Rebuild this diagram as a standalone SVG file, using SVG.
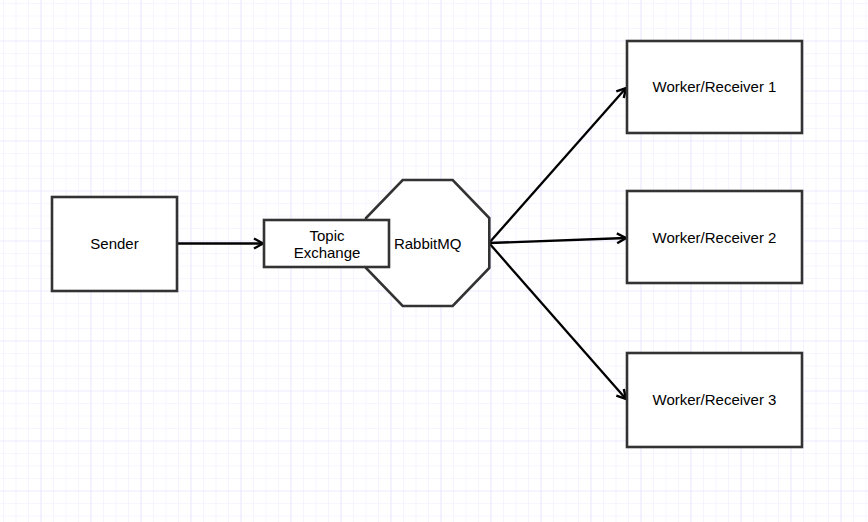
<svg xmlns="http://www.w3.org/2000/svg" width="868" height="522" viewBox="0 0 868 522">
  <defs>
    <pattern id="minor" x="3" y="3" width="12.5" height="12.5" patternUnits="userSpaceOnUse">
      <path d="M0,0 V12.5 M0,0 H12.5" fill="none" stroke="#f0eeff" stroke-width="1.2"/>
    </pattern>
    <pattern id="major" x="40.5" y="40.5" width="50" height="50" patternUnits="userSpaceOnUse">
      <path d="M0,0 V50 M0,0 H50" fill="none" stroke="#e4e0ff" stroke-width="1.2"/>
    </pattern>
    <marker id="arrow" markerUnits="userSpaceOnUse" markerWidth="16" markerHeight="16" viewBox="-12 -8 14 16" refX="0" refY="0" orient="auto">
      <path d="M-9,-5 L0,0 L-9,5" fill="none" stroke="#000" stroke-width="2.4"/>
    </marker>
    <style>
      .box { fill: #ffffff; stroke: #333333; stroke-width: 2.6; }
      .lbl { font-family: "Liberation Sans", Arial, sans-serif; font-size: 15px; fill: #000; text-anchor: middle; }
      .edge { fill: none; stroke: #000; stroke-width: 2.3; marker-end: url(#arrow); }
    </style>
  </defs>
  <rect width="868" height="522" fill="#ffffff"/>
  <rect width="868" height="522" fill="url(#minor)"/>
  <rect width="868" height="522" fill="url(#major)"/>

  <g id="connectors">
    <line class="edge" x1="177" y1="243.5" x2="263" y2="243.5"/>
    <line class="edge" x1="489" y1="243" x2="626" y2="88"/>
    <line class="edge" x1="489" y1="243" x2="626" y2="238"/>
    <line class="edge" x1="489" y1="243" x2="626" y2="399"/>
  </g>

  <g id="sender">
    <rect class="box" x="52" y="197" width="125" height="94"/>
    <text class="lbl" x="114.5" y="249">Sender</text>
  </g>

  <g id="rabbitmq">
    <polygon class="box" points="402.7,180 452.7,180 489.3,218 489.3,268 452.7,306 402.7,306 366,268 366,218"/>
    <text class="lbl" x="427.7" y="248.5">RabbitMQ</text>
  </g>

  <g id="topic-exchange">
    <rect class="box" x="264" y="220" width="125" height="47"/>
    <text class="lbl" x="327" y="241">Topic</text>
    <text class="lbl" x="327" y="257.5">Exchange</text>
  </g>

  <g id="worker1">
    <rect class="box" x="627" y="41" width="175" height="92"/>
    <text class="lbl" x="714.5" y="92">Worker/Receiver 1</text>
  </g>

  <g id="worker2">
    <rect class="box" x="627" y="191" width="175" height="92"/>
    <text class="lbl" x="714.5" y="242.5">Worker/Receiver 2</text>
  </g>

  <g id="worker3">
    <rect class="box" x="627" y="353" width="175" height="94"/>
    <text class="lbl" x="714.5" y="405">Worker/Receiver 3</text>
  </g>
</svg>
